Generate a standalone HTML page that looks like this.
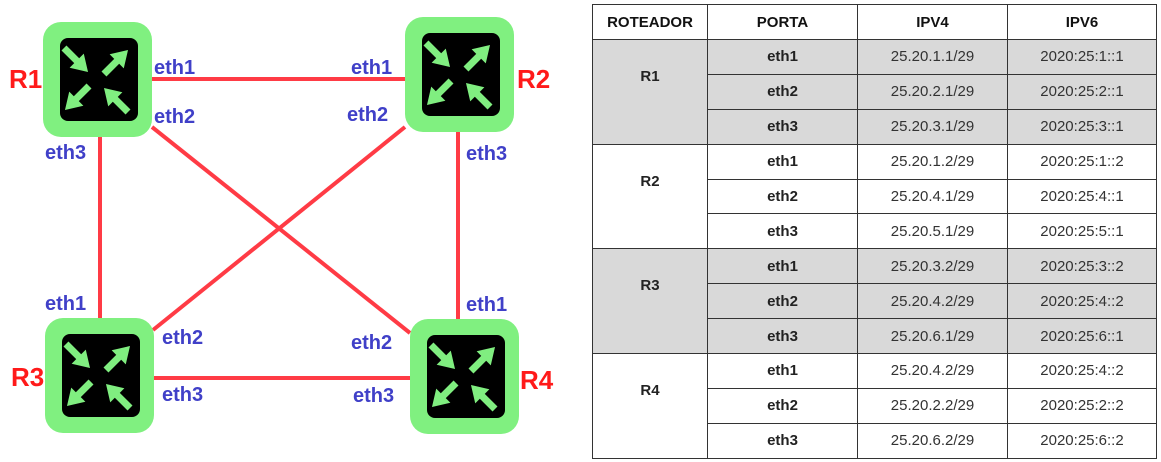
<!DOCTYPE html>
<html><head><meta charset="utf-8"><style>
body{margin:0;width:1161px;height:462px;background:#fff;overflow:hidden;position:relative;font-family:"Liberation Sans",Arial,sans-serif}
svg{position:absolute;left:0;top:0}
table{position:absolute;left:592px;top:4px;border-collapse:collapse;font-size:15px;color:#333}
td,th{border:1px solid #333;text-align:center;padding:0;height:33.9px}
th{font-weight:bold;height:34px;color:#111}
td.b{font-weight:bold;color:#222}
.g td{background:#d9d9d9}
</style></head><body>
<svg width="590" height="462" viewBox="0 0 590 462">
<defs>
<polygon id="ar" points="-17,-3.5 1,-3.5 1,-10 17,0 1,10 1,3.5 -17,3.5" fill="#80ee80"/>
<g id="rt">
<rect x="0" y="0" width="109" height="115" rx="18" fill="#80f080"/>
<rect x="17" y="16" width="78" height="83" rx="8" fill="#000"/>
<use href="#ar" transform="translate(33,38) rotate(45)"/>
<use href="#ar" transform="translate(73,40) rotate(-45)"/>
<use href="#ar" transform="translate(34,76) rotate(135)"/>
<use href="#ar" transform="translate(73,78) rotate(-135)"/>
</g>
</defs>
<g stroke="#ff3b45" stroke-width="4">
<line x1="150" y1="79" x2="407" y2="79"/>
<line x1="153" y1="378" x2="412" y2="378"/>
<line x1="100" y1="137" x2="100" y2="320"/>
<line x1="458" y1="132" x2="458" y2="320"/>
<line x1="152" y1="127" x2="410" y2="333"/>
<line x1="405" y1="127" x2="153" y2="330"/>
</g>
<use href="#rt" x="43" y="22"/>
<use href="#rt" x="405" y="17"/>
<use href="#rt" x="45" y="318"/>
<use href="#rt" x="410" y="319"/>
<g font-family="Liberation Sans,Arial,sans-serif" font-weight="bold" font-size="26" fill="#ff1a1a">
<text x="9" y="88">R1</text>
<text x="517" y="88">R2</text>
<text x="11" y="386">R3</text>
<text x="520" y="389">R4</text>
</g>
<g font-family="Liberation Sans,Arial,sans-serif" font-weight="bold" font-size="20" fill="#4040c8">
<text x="154" y="74">eth1</text>
<text x="351" y="74">eth1</text>
<text x="154" y="123">eth2</text>
<text x="347" y="121">eth2</text>
<text x="45" y="159">eth3</text>
<text x="466" y="160">eth3</text>
<text x="45" y="310">eth1</text>
<text x="466" y="311">eth1</text>
<text x="162" y="344">eth2</text>
<text x="351" y="349">eth2</text>
<text x="162" y="401">eth3</text>
<text x="353" y="402">eth3</text>
</g>
</svg>
<table>
<tr><th style="width:114px">ROTEADOR</th><th style="width:149px">PORTA</th><th style="width:149px">IPV4</th><th style="width:148px">IPV6</th></tr>
<tr class="g"><td rowspan="3" class="b" style="vertical-align:top;padding-top:28px;height:auto">R1</td><td class="b">eth1</td><td>25.20.1.1/29</td><td>2020:25:1::1</td></tr>
<tr class="g"><td class="b">eth2</td><td>25.20.2.1/29</td><td>2020:25:2::1</td></tr>
<tr class="g"><td class="b">eth3</td><td>25.20.3.1/29</td><td>2020:25:3::1</td></tr>
<tr><td rowspan="3" class="b" style="vertical-align:top;padding-top:28px;height:auto">R2</td><td class="b">eth1</td><td>25.20.1.2/29</td><td>2020:25:1::2</td></tr>
<tr><td class="b">eth2</td><td>25.20.4.1/29</td><td>2020:25:4::1</td></tr>
<tr><td class="b">eth3</td><td>25.20.5.1/29</td><td>2020:25:5::1</td></tr>
<tr class="g"><td rowspan="3" class="b" style="vertical-align:top;padding-top:28px;height:auto">R3</td><td class="b">eth1</td><td>25.20.3.2/29</td><td>2020:25:3::2</td></tr>
<tr class="g"><td class="b">eth2</td><td>25.20.4.2/29</td><td>2020:25:4::2</td></tr>
<tr class="g"><td class="b">eth3</td><td>25.20.6.1/29</td><td>2020:25:6::1</td></tr>
<tr><td rowspan="3" class="b" style="vertical-align:top;padding-top:28px;height:auto">R4</td><td class="b">eth1</td><td>25.20.4.2/29</td><td>2020:25:4::2</td></tr>
<tr><td class="b">eth2</td><td>25.20.2.2/29</td><td>2020:25:2::2</td></tr>
<tr><td class="b">eth3</td><td>25.20.6.2/29</td><td>2020:25:6::2</td></tr>
</table>
</body></html>
